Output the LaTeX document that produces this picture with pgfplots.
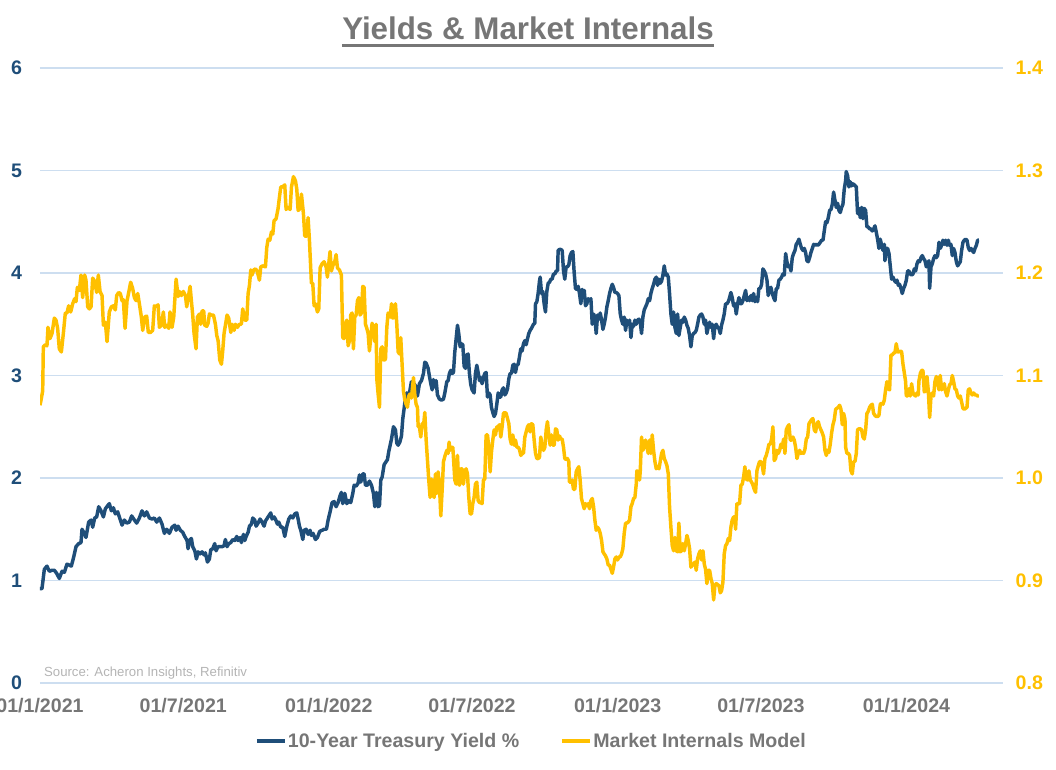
\documentclass[border=0pt]{standalone}
\usepackage{fontspec}
\setmainfont{Liberation Sans}
\usepackage{pgfplots}
\pgfplotsset{compat=1.18}
\definecolor{tblue}{RGB}{31,78,121}
\definecolor{tgold}{RGB}{255,192,0}
\definecolor{tgray}{RGB}{118,118,118}
\definecolor{tgrid}{RGB}{205,222,240}
\definecolor{tsrc}{RGB}{180,180,180}
\begin{document}
\begin{tikzpicture}
\pgfplotsset{
  base/.style={
    scale only axis, width=722.25pt, height=461.25pt,
    xmin=0, xmax=1217,
    at={(0pt,0pt)}, anchor=south west,
    axis line style={draw=none},
    major tick length=0pt,
    tick label style={font=\fontsize{14.7}{17}\selectfont\bfseries},
    /pgf/number format/assume math mode=true,
  }
}
\begin{axis}[base,
  ymin=0, ymax=6, ytick={0,1,2,3,4,5,6},
  ymajorgrids, grid style={tgrid, line width=0.9pt},
  xtick={0,181,365,546,730,911,1095},
  xticklabels={01/1/2021,01/7/2021,01/1/2022,01/7/2022,01/1/2023,01/7/2023,01/1/2024},
  xticklabel style={text=tgray, yshift=-8pt},
  yticklabel style={text=tblue, xshift=-10pt},
]
\addplot[tblue, line width=2.6pt, line join=round] table {
x y
0 0.92
2.5 0.92
5.5 1.11
8.8 1.14
11.8 1.09
15.2 1.10
18.1 1.10
21.1 1.07
24.4 1.02
27.8 1.09
30.8 1.08
34.1 1.16
37.1 1.15
39.6 1.14
42.6 1.23
45.5 1.33
48.9 1.36
51.8 1.37
53.1 1.50
55.2 1.47
58.1 1.42
61.5 1.57
64.5 1.59
66.6 1.52
69.1 1.61
71.6 1.62
74.2 1.72
77.1 1.68
80.1 1.62
82.6 1.70
85.5 1.73
87.6 1.75
90.2 1.68
92.7 1.71
95.2 1.65
98.2 1.67
101.1 1.60
103.7 1.54
106.6 1.59
109.6 1.56
112.9 1.57
115.9 1.63
119.3 1.59
122.2 1.56
125.6 1.61
128.9 1.68
131.9 1.63
134.8 1.67
138.2 1.61
141.6 1.60
144.5 1.61
147.5 1.57
150.9 1.61
154.2 1.55
157.2 1.46
160.1 1.50
163.5 1.46
166.9 1.52
170.3 1.54
172.0 1.49
174.5 1.53
177.4 1.49
180.4 1.47
182.9 1.43
185.9 1.39
187.1 1.31
188.8 1.39
191.3 1.41
193.0 1.33
195.6 1.29
197.7 1.21
199.8 1.28
202.3 1.26
204.8 1.28
207.4 1.25
209.0 1.27
211.6 1.18
214.1 1.21
215.8 1.30
218.3 1.31
220.8 1.36
222.5 1.29
225.0 1.33
227.6 1.33
230.1 1.33
232.6 1.34
234.3 1.40
236.4 1.33
238.5 1.36
241.1 1.37
243.6 1.40
246.1 1.39
248.7 1.43
250.3 1.39
252.9 1.42
254.5 1.37
257.1 1.45
258.8 1.39
260.5 1.43
263.0 1.47
264.7 1.53
267.2 1.55
268.9 1.61
271.4 1.59
273.1 1.53
275.6 1.56
278.1 1.60
280.7 1.57
283.2 1.53
284.9 1.58
287.4 1.61
290.0 1.64
291.6 1.66
293.3 1.60
295.8 1.62
297.5 1.60
300.1 1.55
301.7 1.57
304.3 1.52
306.8 1.52
309.3 1.43
311.9 1.53
314.4 1.60
316.9 1.63
319.5 1.61
322.0 1.65
324.5 1.66
326.2 1.60
327.9 1.53
329.6 1.49
332.1 1.40
333.8 1.49
336.3 1.50
338.8 1.45
341.3 1.49
343.0 1.44
345.1 1.46
348.1 1.40
350.6 1.42
353.5 1.48
356.5 1.49
359.0 1.50
362.0 1.50
364.1 1.59
366.6 1.67
369.1 1.76
371.7 1.77
374.2 1.72
376.7 1.76
379.3 1.83
380.9 1.86
382.6 1.75
385.2 1.85
387.7 1.75
390.2 1.78
392.7 1.76
395.3 1.85
397.0 1.93
399.5 1.92
402.0 1.95
403.7 2.03
405.4 1.96
407.9 2.04
409.6 2.04
411.3 1.93
413.8 1.93
416.3 1.97
418.9 1.93
421.4 1.85
423.1 1.72
425.2 1.86
427.3 1.72
429.0 1.73
430.7 1.98
432.4 2.01
434.9 2.13
437.4 2.16
439.1 2.18
440.8 2.26
442.5 2.32
444.2 2.38
446.7 2.50
449.2 2.47
450.9 2.34
452.6 2.32
454.7 2.35
456.8 2.41
458.5 2.58
460.2 2.68
461.9 2.79
463.5 2.83
465.2 2.79
466.9 2.83
469.4 2.94
471.1 2.86
472.8 2.92
475.3 2.89
477.0 2.80
479.5 2.92
482.1 2.95
484.6 3.02
486.3 3.13
488.0 3.12
490.5 3.07
492.2 2.99
493.9 2.92
495.6 2.86
497.2 2.96
498.9 2.89
500.6 2.95
502.3 2.81
504.8 2.77
507.4 2.76
509.9 2.77
511.6 2.83
514.1 2.94
515.8 2.95
517.4 3.02
519.1 3.05
520.8 3.02
522.5 3.03
524.2 3.23
525.9 3.36
527.6 3.49
529.2 3.41
530.9 3.28
532.6 3.31
534.3 3.30
536.0 3.09
537.7 3.07
539.4 3.20
541.0 3.21
542.7 3.02
544.4 2.91
546.1 2.86
548.6 2.83
550.3 3.02
552.0 3.10
553.7 3.03
555.4 2.95
557.1 2.98
558.7 2.92
560.4 2.98
562.1 3.02
563.8 3.03
565.5 2.79
567.2 2.83
568.9 2.81
570.5 2.69
572.2 2.64
573.9 2.60
575.6 2.63
577.3 2.72
579.0 2.83
580.7 2.79
582.3 2.79
584.0 2.86
585.7 2.88
587.4 2.81
589.1 2.83
590.8 2.87
592.5 2.97
594.1 3.02
595.8 3.02
597.5 3.10
599.2 3.11
600.9 3.03
602.6 3.10
604.3 3.11
605.9 3.18
607.6 3.26
609.3 3.24
611.0 3.31
612.7 3.34
614.4 3.30
616.1 3.36
617.7 3.41
619.4 3.44
621.1 3.46
623.6 3.50
625.3 3.51
626.2 3.70
627.9 3.72
629.5 3.80
631.2 3.92
632.1 3.96
633.8 3.80
635.4 3.82
637.1 3.70
638.8 3.62
640.5 3.82
642.2 3.90
643.9 3.91
645.6 3.94
647.2 3.94
648.9 3.99
650.6 3.99
652.3 4.02
654.0 4.02
654.8 4.22
656.5 4.23
658.2 4.23
659.9 4.22
661.6 4.02
663.2 3.94
664.9 4.06
666.6 4.06
668.3 4.08
670.0 4.17
671.7 4.20
673.4 4.21
675.0 4.01
676.7 3.85
678.4 3.84
680.1 3.87
681.8 3.80
683.5 3.70
685.2 3.84
686.1 3.81
687.8 3.83
689.4 3.68
691.1 3.70
692.8 3.75
694.5 3.73
696.2 3.75
697.9 3.50
699.6 3.60
701.2 3.57
702.9 3.41
704.6 3.59
706.3 3.55
708.0 3.61
709.7 3.54
711.4 3.45
713.0 3.50
714.7 3.57
716.4 3.67
718.1 3.73
719.8 3.80
721.5 3.85
723.2 3.89
724.8 3.86
726.5 3.81
728.2 3.81
729.9 3.80
731.6 3.78
733.3 3.60
735.0 3.54
736.6 3.50
738.3 3.57
740.0 3.44
741.7 3.54
743.4 3.50
745.1 3.54
746.8 3.37
748.4 3.50
750.1 3.48
751.8 3.54
753.5 3.50
755.2 3.54
756.9 3.55
758.6 3.52
760.2 3.41
761.9 3.57
763.6 3.64
765.3 3.67
767.0 3.70
768.7 3.75
770.4 3.73
772.0 3.80
773.7 3.85
775.4 3.89
777.1 3.94
778.8 3.96
780.5 3.88
782.2 3.94
783.8 3.90
785.5 3.92
787.2 3.98
788.9 4.07
790.6 3.98
792.3 3.99
794.0 3.96
795.6 3.80
797.3 3.60
799.0 3.50
800.7 3.62
802.4 3.47
804.1 3.41
805.8 3.60
807.4 3.39
809.1 3.47
810.8 3.54
812.5 3.52
814.2 3.57
815.9 3.54
817.6 3.49
819.2 3.46
820.9 3.39
822.6 3.28
824.3 3.39
826.0 3.41
827.7 3.42
829.3 3.44
831.0 3.50
832.7 3.57
834.4 3.59
836.1 3.60
837.8 3.57
839.5 3.50
841.1 3.54
842.8 3.41
844.5 3.47
846.2 3.52
847.9 3.47
849.6 3.50
851.3 3.36
852.9 3.48
854.6 3.50
856.3 3.47
858.0 3.46
859.7 3.41
861.3 3.49
863.0 3.54
864.7 3.60
866.4 3.70
868.1 3.70
869.8 3.72
871.5 3.76
873.1 3.81
874.8 3.76
876.5 3.68
878.2 3.70
879.9 3.60
881.6 3.70
883.3 3.76
884.9 3.70
886.6 3.70
888.3 3.73
890.0 3.78
891.7 3.83
893.4 3.73
895.1 3.76
896.7 3.73
898.4 3.78
900.1 3.73
901.8 3.80
903.5 3.72
905.2 3.76
906.9 3.72
908.5 3.85
910.2 3.85
911.9 3.89
913.6 4.04
915.3 4.02
917.0 3.99
918.7 3.93
920.3 3.78
922.0 3.85
923.7 3.86
925.4 3.80
927.1 3.76
928.8 3.73
930.5 3.85
932.1 3.85
933.8 3.93
935.5 3.94
937.2 3.96
938.9 3.99
940.6 3.98
942.3 4.19
943.9 4.11
945.6 4.06
947.3 4.07
949.0 4.02
950.7 4.15
952.4 4.19
954.1 4.22
955.7 4.28
957.4 4.30
959.1 4.33
960.8 4.28
962.5 4.24
964.2 4.22
965.9 4.24
967.5 4.20
969.2 4.12
970.9 4.11
972.6 4.15
974.3 4.20
976.0 4.24
977.7 4.28
979.3 4.27
981.0 4.28
982.7 4.27
984.4 4.28
986.1 4.30
987.8 4.32
989.5 4.32
991.1 4.41
992.8 4.50
994.5 4.49
996.2 4.54
997.9 4.61
999.6 4.62
1001.3 4.67
1002.9 4.79
1004.6 4.71
1006.3 4.64
1008.0 4.68
1009.7 4.61
1011.4 4.59
1013.0 4.64
1014.7 4.67
1016.4 4.82
1018.1 4.90
1018.9 4.99
1020.6 4.95
1022.3 4.84
1024.0 4.89
1025.7 4.85
1027.4 4.87
1029.1 4.86
1031.6 4.84
1033.2 4.58
1034.9 4.63
1036.6 4.54
1038.3 4.64
1040.0 4.53
1041.7 4.63
1043.4 4.61
1045.0 4.45
1046.7 4.45
1048.4 4.43
1050.1 4.43
1051.8 4.41
1053.5 4.43
1055.2 4.46
1056.8 4.40
1058.5 4.33
1060.2 4.24
1061.9 4.33
1063.6 4.27
1065.3 4.22
1067.0 4.28
1067.8 4.12
1069.5 4.24
1071.2 4.24
1072.9 4.19
1074.5 4.07
1076.2 3.94
1077.9 3.96
1079.6 3.93
1081.3 3.91
1083.0 3.93
1084.7 3.88
1086.3 3.89
1088.0 3.85
1089.7 3.80
1091.4 3.85
1093.1 3.88
1094.8 3.93
1096.5 4.02
1098.1 4.02
1099.8 3.99
1101.5 3.98
1103.2 3.99
1104.9 4.04
1106.6 4.02
1108.3 4.09
1109.9 4.12
1111.6 4.11
1113.3 4.15
1115.0 4.17
1116.7 4.14
1118.4 4.12
1120.1 4.06
1121.7 4.09
1123.4 4.12
1124.3 3.85
1126.0 4.06
1127.6 4.09
1129.3 4.14
1131.0 4.17
1132.7 4.15
1134.4 4.17
1136.1 4.30
1137.7 4.24
1139.4 4.27
1141.1 4.32
1142.8 4.28
1144.5 4.32
1146.2 4.27
1147.9 4.32
1149.5 4.27
1151.2 4.28
1152.9 4.17
1154.6 4.24
1156.3 4.20
1158.0 4.11
1159.7 4.07
1161.3 4.09
1163.0 4.11
1164.7 4.22
1166.4 4.30
1168.1 4.32
1169.8 4.33
1171.5 4.32
1173.1 4.25
1174.8 4.22
1176.5 4.24
1178.2 4.22
1179.9 4.20
1181.6 4.24
1183.3 4.27
1184.9 4.32
1186.6 4.32
};
\node[anchor=west, inner sep=0pt, text=tsrc, font=\fontsize{9.9}{12}\selectfont] at (rel axis cs:0.004,0.016) {Source: Acheron Insights, Refinitiv};
\end{axis}
\begin{axis}[base,
  ymin=0.8, ymax=1.4,
  axis x line=none,
  axis y line*=right,
  ytick={0.8,0.9,1.0,1.1,1.2,1.3,1.4},
  yticklabels={0.8,0.9,1.0,1.1,1.2,1.3,1.4},
  yticklabel style={text=tgold, xshift=6pt},
  legend columns=2,
  legend style={at={(0.51,-0.0943)}, anchor=center, draw=none, fill=none,
    font=\fontsize{14.7}{17}\selectfont\bfseries, text=tgray,
    nodes={inner xsep=1pt},
    /tikz/every even column/.append style={column sep=30pt}},
  legend image code/.code={\draw[#1, line cap=butt] (0pt,0pt) -- (21pt,0pt);},
]
\addlegendimage{tblue, line width=2.6pt}
\addlegendentry{10-Year Treasury Yield \%}
\addplot[tgold, line width=2.6pt, line join=round] table {
x y
0 1.071
1.3 1.076
3.4 1.085
4.2 1.128
6.7 1.130
8.8 1.129
10.1 1.147
12.6 1.136
15.2 1.141
18.1 1.156
20.2 1.154
22.3 1.146
24.4 1.126
27.0 1.123
29.5 1.141
32.0 1.161
34.1 1.161
36.2 1.168
38.8 1.162
41.3 1.170
43.8 1.175
45.5 1.172
47.2 1.186
49.7 1.183
51.8 1.198
53.9 1.176
56.5 1.198
58.1 1.193
60.3 1.167
62.4 1.165
64.5 1.167
66.6 1.195
69.1 1.192
71.6 1.181
73.7 1.198
75.9 1.182
78.4 1.178
80.1 1.149
82.6 1.152
84.7 1.133
87.6 1.162
90.2 1.167
92.7 1.168
95.2 1.164
96.9 1.178
99.4 1.181
101.5 1.180
103.7 1.173
105.3 1.174
107.5 1.146
110.0 1.173
112.1 1.181
114.6 1.191
117.1 1.185
119.3 1.176
121.4 1.173
123.5 1.180
125.6 1.170
128.1 1.157
129.8 1.144
132.3 1.157
134.8 1.158
136.9 1.142
139.5 1.142
142.4 1.144
144.5 1.168
146.6 1.167
149.2 1.169
150.9 1.147
153.4 1.149
155.9 1.162
157.6 1.147
160.1 1.149
162.7 1.146
164.3 1.162
166.9 1.147
169.0 1.157
172.0 1.194
174.5 1.177
176.2 1.182
178.7 1.178
181.2 1.182
183.8 1.178
185.4 1.167
187.1 1.175
189.7 1.187
191.3 1.173
193.0 1.159
194.7 1.141
197.2 1.126
198.9 1.157
201.5 1.160
203.1 1.150
204.8 1.163
206.9 1.163
208.2 1.149
210.7 1.148
212.4 1.151
214.1 1.160
216.6 1.159
219.2 1.159
221.7 1.150
223.4 1.139
225.1 1.134
227.2 1.115
229.3 1.111
230.9 1.124
232.6 1.141
234.3 1.149
236.4 1.159
238.5 1.156
241.1 1.142
242.8 1.150
245.3 1.144
247.0 1.150
249.5 1.147
252.0 1.150
254.5 1.150
256.2 1.165
258.8 1.154
261.3 1.154
263.0 1.180
264.7 1.188
266.4 1.203
268.0 1.198
270.1 1.203
272.3 1.204
274.4 1.202
277.3 1.193
279.0 1.206
281.5 1.207
284.9 1.206
286.6 1.225
288.3 1.233
290.4 1.232
292.5 1.240
294.2 1.238
295.8 1.251
298.4 1.253
300.9 1.263
302.6 1.274
304.3 1.284
306.8 1.284
309.3 1.286
311.0 1.262
313.5 1.264
316.1 1.262
317.8 1.284
320.3 1.294
322.8 1.290
324.5 1.282
326.2 1.261
328.7 1.263
330.4 1.277
332.9 1.258
334.6 1.236
337.1 1.236
338.8 1.254
340.5 1.232
343.0 1.190
344.7 1.190
346.4 1.168
348.1 1.170
350.6 1.162
352.3 1.165
354.0 1.205
356.5 1.209
359.0 1.211
361.6 1.206
363.2 1.196
364.9 1.209
366.6 1.221
368.3 1.202
370.0 1.207
372.5 1.211
374.2 1.218
375.9 1.205
378.4 1.203
380.9 1.198
382.6 1.137
384.3 1.136
386.0 1.150
387.7 1.154
389.4 1.129
391.1 1.134
392.7 1.159
394.4 1.161
396.1 1.126
397.8 1.157
399.5 1.159
401.2 1.173
402.9 1.176
404.5 1.159
406.2 1.161
407.9 1.187
409.6 1.186
411.3 1.150
413.0 1.146
414.7 1.141
416.3 1.124
418.0 1.137
419.7 1.151
421.4 1.146
423.1 1.133
424.8 1.150
425.6 1.097
427.3 1.082
429.0 1.069
430.7 1.126
432.4 1.128
434.9 1.115
436.6 1.116
438.3 1.147
439.9 1.161
442.5 1.157
444.2 1.170
445.8 1.156
447.5 1.157
449.2 1.170
450.9 1.150
452.6 1.123
454.3 1.121
455.9 1.137
457.6 1.111
459.3 1.085
461.0 1.076
462.7 1.072
464.4 1.069
466.1 1.080
467.7 1.082
469.4 1.078
472.0 1.098
473.6 1.082
475.3 1.072
477.0 1.069
477.9 1.050
479.5 1.050
481.2 1.040
482.9 1.053
484.6 1.050
486.3 1.064
488.0 1.037
489.7 1.017
491.3 0.998
493.0 0.981
494.7 0.999
496.4 0.985
498.1 0.981
499.8 1.004
501.5 0.985
503.1 1.006
504.8 0.993
506.5 0.963
508.2 0.988
509.9 1.016
511.6 1.021
514.1 1.027
515.8 1.024
517.0 1.035
518.3 1.027
520.0 1.030
521.7 1.030
522.5 1.020
524.2 0.998
525.9 0.994
527.6 1.022
529.2 0.994
530.1 0.993
531.8 1.009
533.5 1.009
535.1 0.994
536.8 1.006
538.5 1.009
540.2 1.004
541.9 0.981
543.6 0.965
545.3 0.965
546.9 0.975
548.6 0.981
550.3 0.994
552.0 0.996
553.7 0.978
555.4 0.976
557.1 0.976
558.7 0.975
560.4 0.998
562.1 0.999
563.8 1.042
565.5 1.042
567.2 1.030
568.9 1.006
570.5 1.025
572.2 1.037
573.9 1.047
575.6 1.042
577.3 1.050
579.0 1.050
580.7 1.052
582.3 1.040
584.0 1.050
585.7 1.063
587.4 1.064
589.1 1.063
590.8 1.058
592.5 1.053
594.1 1.038
595.8 1.033
597.5 1.042
599.2 1.032
600.9 1.037
602.6 1.030
604.3 1.030
605.9 1.028
607.6 1.022
609.3 1.024
611.0 1.024
612.7 1.040
614.4 1.045
616.1 1.050
617.7 1.052
619.4 1.045
621.1 1.053
622.8 1.052
624.5 1.037
626.2 1.024
627.9 1.019
629.5 1.019
631.2 1.020
632.9 1.040
634.6 1.030
636.3 1.027
638.0 1.030
639.7 1.047
641.3 1.055
643.0 1.042
644.7 1.032
646.4 1.042
648.1 1.032
649.8 1.032
651.5 1.048
653.1 1.047
654.8 1.037
656.5 1.041
658.2 1.038
659.9 1.038
661.6 1.030
663.2 1.019
664.9 1.018
666.6 1.019
668.3 1.016
669.1 0.996
670.8 0.996
672.5 0.998
674.2 0.989
675.9 0.989
677.6 1.006
679.3 1.009
680.9 1.011
682.6 0.998
684.3 0.980
686.0 0.975
687.7 0.970
689.4 0.975
691.1 0.973
692.8 0.975
694.5 0.970
696.2 0.978
697.9 0.980
699.6 0.972
701.2 0.959
702.9 0.949
704.6 0.952
706.3 0.950
708.0 0.946
709.7 0.939
711.4 0.928
713.0 0.926
714.7 0.924
716.4 0.921
718.1 0.915
719.8 0.915
721.5 0.911
723.2 0.907
724.8 0.913
726.5 0.921
728.2 0.923
729.9 0.920
731.6 0.923
733.3 0.923
735.0 0.926
736.6 0.931
738.3 0.946
740.0 0.956
741.7 0.956
743.4 0.957
745.1 0.959
746.8 0.972
748.4 0.975
750.1 0.980
751.8 0.981
753.5 0.994
754.3 1.007
756.0 1.006
757.7 0.998
758.6 1.007
760.2 1.040
761.9 1.027
763.6 1.032
765.3 1.037
767.0 1.030
768.7 1.024
770.4 1.037
772.0 1.024
773.7 1.042
775.4 1.027
777.1 1.016
778.8 1.009
780.5 1.011
782.2 1.009
783.8 1.016
785.5 1.024
787.2 1.027
788.9 1.019
790.6 1.016
792.3 1.012
794.0 1.004
795.6 0.972
797.3 0.952
799.0 0.934
800.7 0.929
802.4 0.942
804.1 0.929
805.8 0.928
807.4 0.956
809.1 0.928
810.8 0.929
812.5 0.936
814.2 0.929
815.9 0.936
817.6 0.944
819.2 0.939
820.9 0.931
822.6 0.913
824.3 0.915
826.0 0.916
827.7 0.918
829.3 0.910
831.0 0.921
832.7 0.926
834.4 0.929
836.1 0.920
837.8 0.929
839.5 0.916
841.1 0.911
842.8 0.897
844.5 0.910
846.2 0.910
847.9 0.902
849.6 0.897
851.3 0.881
852.9 0.895
854.6 0.897
856.3 0.896
858.0 0.895
859.7 0.888
861.3 0.890
863.0 0.898
864.7 0.926
866.4 0.934
868.1 0.936
869.8 0.941
871.5 0.939
873.1 0.952
874.8 0.959
876.5 0.962
878.2 0.962
879.0 0.950
880.7 0.975
882.4 0.975
884.1 0.975
885.8 0.993
887.5 0.994
889.2 1.001
890.8 1.011
892.5 0.999
894.2 0.998
895.9 1.007
897.6 0.998
899.3 0.996
901.0 0.993
902.6 0.989
904.3 0.986
906.0 1.007
907.7 1.012
909.4 1.016
911.1 1.016
912.8 1.012
914.4 1.004
916.1 1.019
917.8 1.022
919.5 1.027
921.2 1.033
922.9 1.033
924.6 1.038
926.2 1.050
927.9 1.017
929.6 1.019
931.3 1.027
933.0 1.024
934.7 1.027
936.4 1.033
938.0 1.030
939.7 1.038
941.4 1.024
943.1 1.047
944.8 1.050
946.5 1.052
948.2 1.037
949.8 1.037
951.5 1.040
953.2 1.037
954.9 1.030
956.6 1.019
958.3 1.024
960.0 1.027
961.6 1.024
963.3 1.025
965.0 1.024
966.7 1.028
968.4 1.038
970.1 1.040
971.8 1.053
973.4 1.055
975.1 1.057
976.8 1.058
978.5 1.047
980.2 1.045
981.9 1.053
983.5 1.055
985.2 1.050
986.9 1.047
988.6 1.044
990.3 1.040
992.0 1.027
993.7 1.022
995.3 1.027
997.0 1.025
998.7 1.033
1000.4 1.044
1002.1 1.052
1003.8 1.057
1005.5 1.067
1007.1 1.068
1008.8 1.069
1010.5 1.071
1012.2 1.067
1013.9 1.052
1015.6 1.063
1017.3 1.057
1018.1 1.030
1019.8 1.024
1021.5 1.024
1023.2 1.022
1024.8 1.007
1026.5 1.004
1028.2 1.016
1029.9 1.016
1031.6 1.024
1033.2 1.047
1034.9 1.048
1036.6 1.048
1038.3 1.047
1040.0 1.040
1041.7 1.038
1043.4 1.047
1045.0 1.063
1046.7 1.065
1048.4 1.069
1050.1 1.071
1051.8 1.072
1053.5 1.063
1055.2 1.061
1056.8 1.060
1058.5 1.060
1060.2 1.061
1061.9 1.072
1063.6 1.073
1065.3 1.072
1067.0 1.076
1068.6 1.086
1070.3 1.094
1072.0 1.087
1073.7 1.086
1075.4 1.120
1077.1 1.120
1078.8 1.122
1080.4 1.122
1082.1 1.131
1083.8 1.123
1085.5 1.123
1087.2 1.124
1088.9 1.123
1090.6 1.111
1092.2 1.103
1093.9 1.094
1094.8 1.080
1096.5 1.080
1098.1 1.087
1099.8 1.080
1101.5 1.092
1103.2 1.083
1104.9 1.081
1106.6 1.080
1108.3 1.083
1109.9 1.081
1110.8 1.095
1112.5 1.102
1114.2 1.105
1115.8 1.105
1117.5 1.084
1119.2 1.085
1120.9 1.099
1122.6 1.085
1124.3 1.059
1126.0 1.080
1127.6 1.083
1129.3 1.080
1131.0 1.094
1132.7 1.099
1134.4 1.094
1136.1 1.086
1137.7 1.100
1139.4 1.086
1141.1 1.089
1142.8 1.092
1144.5 1.084
1146.2 1.080
1147.9 1.086
1149.5 1.091
1151.2 1.092
1152.9 1.100
1154.6 1.094
1156.3 1.087
1158.0 1.086
1159.7 1.080
1161.3 1.078
1163.0 1.080
1164.7 1.074
1166.4 1.068
1168.1 1.067
1169.8 1.068
1171.5 1.069
1173.1 1.086
1174.8 1.087
1176.5 1.083
1178.2 1.081
1179.9 1.083
1181.6 1.081
1183.3 1.081
1184.9 1.080
1186.6 1.080
};
\addlegendentry{Market Internals Model}
\end{axis}
\node[anchor=base, inner sep=0pt, text=tgray, font=\fontsize{23.5}{28}\selectfont\bfseries] (T) at (366pt,482.25pt) {Yields \& Market Internals};
\draw[tgray, line width=2pt] ([yshift=-4.2pt]T.base west) -- ([yshift=-4.2pt]T.base east);
\pgfresetboundingbox
\path (-30pt,-64.5pt) rectangle (762pt,512.25pt);
\end{tikzpicture}
\end{document}
